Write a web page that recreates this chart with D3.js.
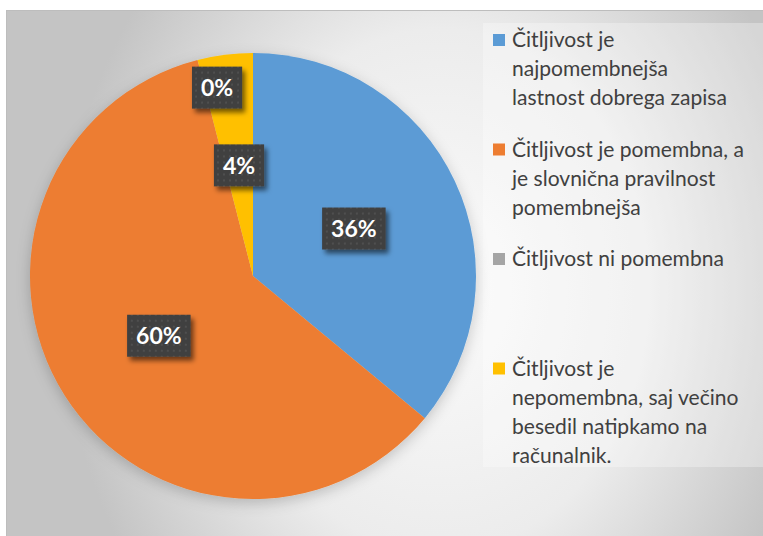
<!DOCTYPE html>
<html><head><meta charset="utf-8">
<script src="https://cdn.jsdelivr.net/npm/d3@7"></script>
<style>html,body{margin:0;padding:0;background:#fff;overflow:hidden}</style>
</head><body>
<svg id="chart" width="763" height="536"></svg>
<script>
const categories = [
  "Čitljivost je najpomembnejša lastnost dobrega zapisa",
  "Čitljivost je pomembna, a je slovnična pravilnost pomembnejša",
  "Čitljivost ni pomembna",
  "Čitljivost je nepomembna, saj večino besedil natipkamo na računalnik."
];
const legendLines = [
  ["Čitljivost je", "najpomembnejša", "lastnost dobrega zapisa"],
  ["Čitljivost je pomembna, a", "je slovnična pravilnost", "pomembnejša"],
  ["Čitljivost ni pomembna"],
  ["Čitljivost je", "nepomembna, saj večino", "besedil natipkamo na", "računalnik."]
];
const values = [9, 15, 0, 1];
const colors = ["#5B9BD5", "#ED7D31", "#A5A5A5", "#FFC000"];

const svg = d3.select("#chart");
const defs = svg.append("defs");

const rg = defs.append("radialGradient").attr("id","bg")
  .attr("gradientUnits","userSpaceOnUse").attr("cx",440).attr("cy",290).attr("r",380)
  .attr("gradientTransform","translate(440,290) scale(1,1.25) translate(-440,-290)");
rg.append("stop").attr("offset","0%").attr("stop-color","#fbfbfb");
rg.append("stop").attr("offset","55%").attr("stop-color","#ececec");
rg.append("stop").attr("offset","100%").attr("stop-color","#c4c4c4");

const pieSh = defs.append("filter").attr("id","pieShadow").attr("x","-20%").attr("y","-20%").attr("width","140%").attr("height","140%");
pieSh.append("feDropShadow").attr("dx",0).attr("dy",4).attr("stdDeviation",7).attr("flood-color","#000").attr("flood-opacity",0.2);

const boxSh = defs.append("filter").attr("id","boxShadow").attr("x","-30%").attr("y","-30%").attr("width","160%").attr("height","160%");
boxSh.append("feDropShadow").attr("dx",3).attr("dy",4).attr("stdDeviation",2.5).attr("flood-color","#000").attr("flood-opacity",0.55);

const pat = defs.append("pattern").attr("id","dots").attr("patternUnits","userSpaceOnUse").attr("width",6).attr("height",6);
pat.append("rect").attr("width",6).attr("height",6).attr("fill","#404040");
pat.append("rect").attr("x",2).attr("y",2).attr("width",2).attr("height",2).attr("fill","#4f4f4f");

// chart area background
svg.append("rect").attr("x",6.5).attr("y",10.5).attr("width",800).attr("height",560)
  .attr("fill","url(#bg)").attr("stroke","#bdbdbd").attr("stroke-width",1);

// legend background
svg.append("rect").attr("x",483).attr("y",23).attr("width",300).attr("height",444)
  .attr("fill","#ffffff").attr("fill-opacity",0.3);

const cx = 253, cy = 276, R = 223;
const g = svg.append("g").attr("transform",`translate(${cx},${cy})`);

const pie = d3.pie().sort(null).value(d => d);
const arcs = pie(values);
const arc = d3.arc().innerRadius(0).outerRadius(R);

g.append("g").attr("filter","url(#pieShadow)")
  .selectAll("path").data(arcs).join("path")
  .attr("d", arc).attr("fill",(d,i)=>colors[i]);

const total = d3.sum(values);
const fmt = d3.format(".0%");

arcs.forEach((a,i) => {
  let ang, rr;
  if (a.value === 0) {
    const next = arcs[(i+1) % arcs.length];
    ang = (a.startAngle + (next.startAngle + next.endAngle)/2) / 2;
    rr = R * 0.86;
  } else {
    ang = (a.startAngle + a.endAngle)/2;
    rr = R * 0.5;
  }
  const x = rr * Math.sin(ang), y = -rr * Math.cos(ang);
  const lg = g.append("g").attr("transform",`translate(${x},${y})`);
  const rect = lg.append("rect");
  const t = lg.append("text").text(fmt(values[i]/total))
    .attr("text-anchor","middle").attr("dy","0.36em")
    .attr("font-family","Lato, 'Open Sans', sans-serif").attr("font-weight","bold")
    .attr("font-size",23).attr("fill","#ffffff");
  const w = t.node().getComputedTextLength() + 18, h = 42;
  rect.attr("x",-w/2).attr("y",-h/2).attr("width",w).attr("height",h)
    .attr("fill","url(#dots)").attr("filter","url(#boxShadow)");
});

// legend
const legX = 493, legY0 = 40, entryStep = 109.5, lineH = 29;
const leg = svg.append("g");
let fs = 21;
const probe = leg.append("text").attr("font-family","Lato, 'Open Sans', sans-serif").attr("font-size",fs).text("lastnost dobrega zapisa");
fs = fs * 215 / probe.node().getComputedTextLength();
probe.remove();
legendLines.forEach((lines,i) => {
  const y0 = legY0 + i*entryStep;
  leg.append("rect").attr("x",legX).attr("y",y0-6).attr("width",12).attr("height",12).attr("fill",colors[i]);
  const t = leg.append("text").attr("font-family","Lato, 'Open Sans', sans-serif")
    .attr("font-size",fs).attr("fill","#404040");
  lines.forEach((ln,j) => {
    t.append("tspan").attr("x",legX+19).attr("y",y0 + j*lineH).attr("dy","0.35em").text(ln);
  });
});
</script>
</body></html>
